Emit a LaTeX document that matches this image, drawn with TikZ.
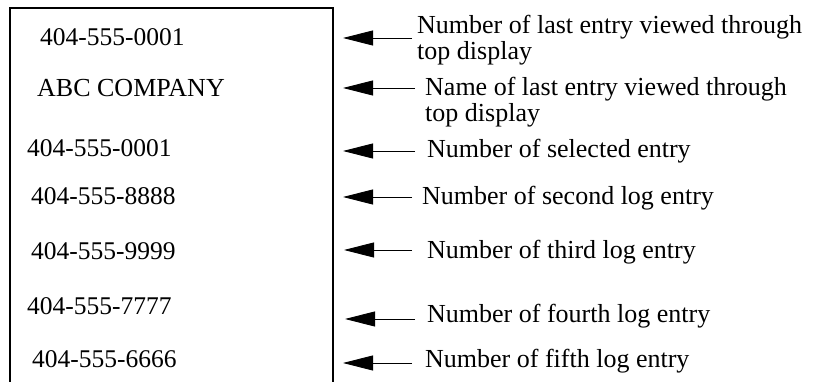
\documentclass[tikz,border=0pt]{standalone}
\usepackage{fontspec}
\setmainfont{Liberation Serif}
\usetikzlibrary{arrows.meta}
\begin{document}
\begin{tikzpicture}[x=1pt,y=-1pt,
  numtext/.style={anchor=base west,inner sep=0pt,font=\fontsize{25.5}{26}\selectfont},
  labeltext/.style={anchor=base west,inner sep=0pt,align=left,font=\fontsize{26}{26}\selectfont},
  pointer/.style={-{Triangle[length=30pt,width=15pt]},line width=0.9pt},
  frame/.style={line width=2.5pt}]
\useasboundingbox (0,0) rectangle (823,382);
% display frame (open at the bottom)
\draw[frame] (10,390) -- (10,8) -- (333,8) -- (333,390);
% display contents
\node[numtext] (n1) at (40,46) {404-555-0001};
\node[numtext,font=\fontsize{26}{26}\selectfont] (n2) at (37,97) {ABC COMPANY};
\node[numtext] (n3) at (27,157) {404-555-0001};
\node[numtext] (n4) at (31,205) {404-555-8888};
\node[numtext] (n5) at (31,260) {404-555-9999};
\node[numtext] (n6) at (27,315) {404-555-7777};
\node[numtext] (n7) at (32,368) {404-555-6666};
% labels (two-line labels are anchored at the baseline of their last line)
\node[labeltext] (l1) at (417,60) {Number of last entry viewed through\\top display};
\node[labeltext] (l2) at (425,122) {Name of last entry viewed through\\top display};
\node[labeltext] (l3) at (427,158) {Number of selected entry};
\node[labeltext] (l4) at (422,205) {Number of second log entry};
\node[labeltext] (l5) at (427,259) {Number of third log entry};
\node[labeltext] (l6) at (427,323) {Number of fourth log entry};
\node[labeltext] (l7) at (425,368) {Number of fifth log entry};
% arrow end points
\coordinate (s1) at (412,38);  \coordinate (t1) at (343,38);
\coordinate (s2) at (415,88);  \coordinate (t2) at (343,88);
\coordinate (s3) at (415,151); \coordinate (t3) at (343,151);
\coordinate (s4) at (412,197); \coordinate (t4) at (343,197);
\coordinate (s5) at (412,250); \coordinate (t5) at (344,250);
\coordinate (s6) at (415,319); \coordinate (t6) at (345,319);
\coordinate (s7) at (412,363); \coordinate (t7) at (343,363);
\foreach \i in {1,...,7} {\draw[pointer] (s\i) -- (t\i);}
\end{tikzpicture}
\end{document}
